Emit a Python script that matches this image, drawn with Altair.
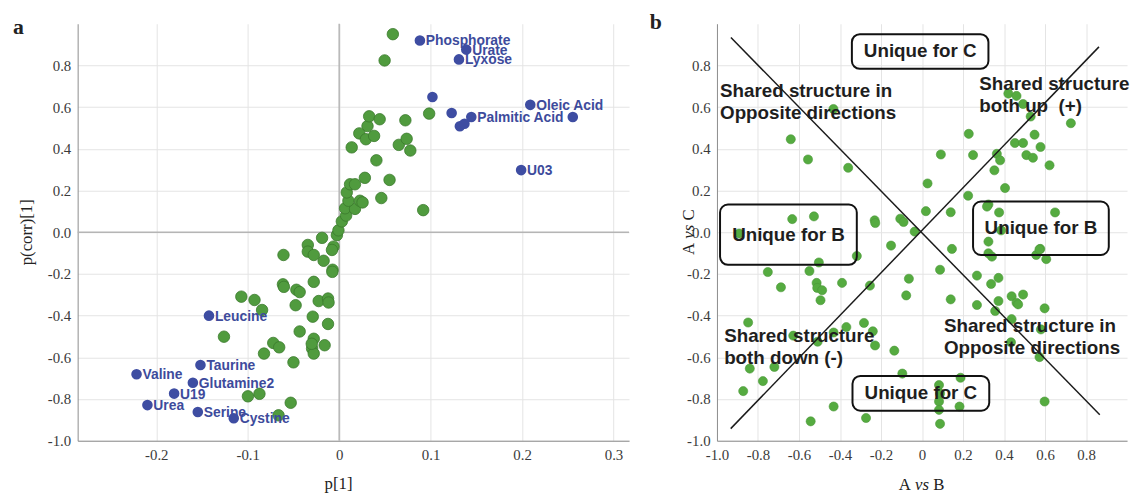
import altair as alt
import pandas as pd

# ---------------- Panel a: S-plot ----------------
green_p1 = [-0.107, -0.0926, -0.0843, -0.126, -0.0721, -0.0656, -0.0822, -0.050, -0.0998, -0.0872,
            -0.053, -0.0663, -0.0609, -0.0615, -0.0605, -0.0468, -0.0432, -0.0476, -0.0278, -0.0224,
            -0.0122, -0.0116, -0.0289, -0.0122, -0.0432, -0.0278, -0.0296, -0.0278, -0.0159, -0.030,
            -0.017, -0.0072, -0.0075, -0.0343, -0.0343, -0.0278, -0.0062, -0.0079, -0.0187, -0.0025,
            -0.0008, 0.0029, 0.0076, 0.0065, 0.0173, 0.0101, 0.0227, 0.0256, 0.0083, 0.0119,
            0.0173, 0.0281, 0.0551, 0.0461, 0.0919, 0.0407, 0.0137, 0.0652, 0.0738, 0.0778,
            0.031, 0.022, 0.0292, 0.0382, 0.0328, 0.0443, 0.0724, 0.0984, 0.0497, 0.0587]
green_pcorr = [-0.309, -0.325, -0.373, -0.501, -0.531, -0.552, -0.582, -0.624, -0.787, -0.775,
               -0.818, -0.878, -0.109, -0.250, -0.262, -0.276, -0.287, -0.350, -0.238, -0.330,
               -0.318, -0.337, -0.405, -0.440, -0.476, -0.511, -0.558, -0.582, -0.542, -0.535,
               -0.137, -0.180, -0.190, -0.061, -0.093, -0.109, -0.069, -0.085, -0.027, -0.014,
               0.009, 0.052, 0.080, 0.115, 0.112, 0.151, 0.151, 0.143, 0.191, 0.230,
               0.230, 0.261, 0.251, 0.164, 0.106, 0.345, 0.407, 0.419, 0.448, 0.392,
               0.509, 0.474, 0.446, 0.462, 0.556, 0.542, 0.537, 0.569, 0.824, 0.950]

blue_names = ["Phosphorate", "Urate", "Lyxose", "", "Oleic Acid", "", "Palmitic Acid", "", "", "",
              "U03", "Leucine", "Taurine", "Valine", "Glutamine2", "U19", "Urea", "Serine", "Cystine"]
blue_p1 = [0.0883, 0.139, 0.131, 0.102, 0.209, 0.123, 0.1445, 0.132, 0.137, 0.2555,
           0.199, -0.1424, -0.1517, -0.2216, -0.160, -0.1805, -0.2097, -0.1546, -0.1153]
blue_pcorr = [0.920, 0.876, 0.829, 0.649, 0.611, 0.572, 0.553, 0.508, 0.520, 0.553,
              0.298, -0.400, -0.637, -0.681, -0.722, -0.774, -0.829, -0.862, -0.892]

# ---------------- Panel b: shared-and-unique-structure plot ----------------
avsb = [-0.432, -0.640, -0.556, -0.360, -0.633, -0.527, -0.231, -0.228, -0.106, -0.090,
        -0.036, -0.892, -0.151, 0.019, 0.027, 0.092, 0.140, 0.228, 0.225, 0.249,
        0.324, 0.317, 0.376, 0.324, 0.386, 0.405, 0.353, 0.365, 0.381, 0.421,
        0.461, 0.493, 0.530, 0.453, 0.493, 0.509, 0.541, 0.549, 0.578, 0.622,
        0.726, 0.649, 0.146, 0.577,
        -0.318, -0.503, -0.752, -0.549, -0.514, -0.511, -0.487, -0.495, -0.688, -0.390,
        -0.254, -0.064, -0.077,
        0.088, 0.140, 0.268, 0.337, 0.373, 0.268, 0.373, 0.357, 0.437, 0.461,
        0.469, 0.493, 0.437, 0.598, 0.434, 0.580, 0.573, 0.598, 0.557, 0.573,
        0.606, 0.324, 0.341,
        -0.848, -0.628, -0.840, -0.720, -0.776, -0.872, -0.509, -0.431, -0.369, -0.283,
        -0.240, -0.229, -0.135, -0.096, -0.431, -0.273, -0.543,
        0.083, 0.088, 0.083, 0.083, 0.088, 0.188, 0.183]
avsc = [0.591, 0.446, 0.349, 0.309, 0.063, 0.076, 0.057, 0.044, 0.065, 0.049,
        0.003, -0.006, -0.064, 0.101, 0.234, 0.373, 0.096, 0.472, 0.175, 0.370,
        0.133, 0.123, 0.095, -0.045, 0.009, 0.212, 0.297, 0.376, 0.345, 0.665,
        0.654, 0.615, 0.555, 0.428, 0.428, 0.370, 0.357, 0.468, 0.409, 0.321,
        0.523, 0.095, -0.080, -0.080,
        -0.114, -0.145, -0.191, -0.186, -0.243, -0.267, -0.278, -0.326, -0.264, -0.243,
        -0.256, -0.223, -0.303,
        -0.180, -0.322, -0.208, -0.248, -0.219, -0.349, -0.330, -0.378, -0.307, -0.338,
        -0.346, -0.299, -0.417, -0.365, -0.528, -0.466, -0.599, -0.812, -0.109, -0.082,
        -0.129, -0.101, -0.117,
        -0.433, -0.496, -0.654, -0.646, -0.714, -0.762, -0.525, -0.481, -0.455, -0.435,
        -0.475, -0.543, -0.568, -0.678, -0.836, -0.891, -0.907,
        -0.733, -0.773, -0.812, -0.852, -0.919, -0.698, -0.836]

# diagonal guide lines (start x, start y, end x, end y)
line_x1 = [-0.932, -0.933]
line_y1 = [0.934, -0.942]
line_x2 = [0.867, 0.863]
line_y2 = [-0.875, 0.889]

# boxed region labels
box_text = ["Unique for C", "Unique for C", "Unique for B", "Unique for B"]
box_x1 = [-0.342, -0.339, -0.985, 0.249]
box_x2 = [0.324, 0.328, -0.318, 0.911]
box_y1 = [0.784, -0.856, -0.156, -0.109]
box_y2 = [0.950, -0.689, 0.133, 0.147]

# free region labels (one row per text line)
note_text = ["Shared structure in", "Opposite directions", "Shared structure", "both up\u00a0 (+)",
             "Shared structure", "both down (-)", "Shared structure in", "Opposite directions"]
note_x = [-0.985, -0.985, 0.2795, 0.2795, -0.965, -0.965, 0.107, 0.107]
note_y = [0.678, 0.573, 0.712, 0.605, -0.496, -0.603, -0.452, -0.556]

# ---------------- styling ----------------
W_A, W_B, H = 558, 415, 422
SERIF = "Liberation Serif"
SANS = "Liberation Sans"
GRID = "#e4e4e4"
LABEL_EXPR_X = "datum.value == 0 ? '0' : replace(format(datum.value, '.1f'), '\u2212', '-')"
LABEL_EXPR_Y = "replace(format(datum.value, '.1f'), '\u2212', '-')"

yvals = [-1.0, -0.8, -0.6, -0.4, -0.2, 0.0, 0.2, 0.4, 0.6, 0.8]

def yaxis():
    return alt.Axis(values=yvals, labelExpr=LABEL_EXPR_Y, title=None)

df_green = pd.DataFrame({"p1": green_p1, "pcorr": green_pcorr})
df_blue = pd.DataFrame({"name": blue_names, "p1": blue_p1, "pcorr": blue_pcorr})

xa = alt.X("p1:Q", scale=alt.Scale(domain=[-0.286, 0.317], nice=False, zero=False),
           axis=alt.Axis(values=[-0.2, -0.1, 0.0, 0.1, 0.2, 0.3], labelExpr=LABEL_EXPR_X, title=None))
ya = alt.Y("pcorr:Q", scale=alt.Scale(domain=[-1.0, 1.0], nice=False, zero=False), axis=yaxis())

zero_v = alt.Chart(pd.DataFrame({"p1": [0.0]})).mark_rule(color="#b5b5b5", strokeWidth=1.5).encode(x=xa)
zero_h = alt.Chart(pd.DataFrame({"pcorr": [0.0]})).mark_rule(color="#b5b5b5", strokeWidth=1.5).encode(y=ya)

greens = alt.Chart(df_green).mark_circle(size=135, color="#509b3e", stroke="#3a7a2c",
                                         strokeWidth=0.8, opacity=1).encode(x=xa, y=ya)
labels = alt.Chart(df_blue).mark_text(align="left", baseline="middle", dx=6, dy=1, font=SANS,
                                      fontWeight="bold", fontSize=14, color="#3d4b9c").encode(
    x=xa, y=ya, text="name:N")
blues = alt.Chart(df_blue).mark_circle(size=115, color="#3e4da2", opacity=1).encode(x=xa, y=ya)

def txt(t, x, y, size=17, weight="normal", style="normal", angle=0, font=SERIF, color="#222222",
        align="center", baseline="middle"):
    kw = dict(align=align, baseline=baseline, font=font, fontSize=size, fontWeight=weight,
              fontStyle=style, color=color)
    if angle:
        kw["angle"] = angle
    return alt.Chart(pd.DataFrame({"t": [t]})).mark_text(**kw).encode(
        text="t:N", x=alt.value(x), y=alt.value(y))

panel_a = alt.layer(
    zero_v, zero_h, greens, labels, blues,
    txt("a", -60, 3, size=22, weight="bold"),
    txt("p(corr)[1]", -51.5, 211, angle=270),
    txt("p[1]", 264, 465.5),
).properties(width=W_A, height=H)

# panel b
df_b = pd.DataFrame({"ab": avsb, "ac": avsc})
xb = alt.X("ab:Q", scale=alt.Scale(domain=[-1.0, 1.0], nice=False, zero=False),
           axis=alt.Axis(values=yvals, labelExpr=LABEL_EXPR_X, title=None))
yb = alt.Y("ac:Q", scale=alt.Scale(domain=[-1.0, 1.0], nice=False, zero=False), axis=yaxis())

pts_b = alt.Chart(df_b).mark_circle(size=85, color="#55ab40", stroke="#4a9838",
                                    strokeWidth=0.6, opacity=1).encode(x=xb, y=yb)
df_lines = pd.DataFrame({"ab": line_x1, "ac": line_y1, "ab2": line_x2, "ac2": line_y2})
lines_b = alt.Chart(df_lines).mark_rule(color="#1a1a1a", strokeWidth=1.5).encode(
    x=xb, y=yb, x2="ab2:Q", y2="ac2:Q")
df_box = pd.DataFrame({"t": box_text, "ab": box_x1, "ab2": box_x2, "ac": box_y1, "ac2": box_y2})
df_box["cx"] = (df_box["ab"] + df_box["ab2"]) / 2
df_box["cy"] = (df_box["ac"] + df_box["ac2"]) / 2
boxes = alt.Chart(df_box).mark_rect(fillOpacity=0, stroke="#111111", strokeWidth=2,
                                    cornerRadius=8).encode(x=xb, y=yb, x2="ab2:Q", y2="ac2:Q")
box_labels = alt.Chart(df_box).mark_text(align="center", baseline="middle", font=SANS,
                                         fontWeight="bold", fontSize=19, color="#1e1e1e").encode(
    x=alt.X("cx:Q", scale=alt.Scale(domain=[-1.0, 1.0], nice=False, zero=False)),
    y=alt.Y("cy:Q", scale=alt.Scale(domain=[-1.0, 1.0], nice=False, zero=False)),
    text="t:N")
df_note = pd.DataFrame({"t": note_text, "ab": note_x, "ac": note_y})
notes = alt.Chart(df_note).mark_text(align="left", baseline="middle", font=SANS,
                                     fontWeight="bold", fontSize=19, color="#1e1e1e").encode(
    x=xb, y=yb, text="t:N")

panel_b = alt.layer(
    pts_b, lines_b, boxes, box_labels, notes,
    txt("b", -62, -1.5, size=22, weight="bold"),
    txt("A", -28.5, 228.0, angle=270),
    txt("vs", -28.5, 210.5, angle=270, style="italic"),
    txt("C", -28.5, 193.5, angle=270),
    txt("A", 190.0, 466.5),
    txt("vs", 207.5, 466.5, style="italic"),
    txt("B", 224.5, 466.5),
).properties(width=W_B, height=H)

chart = alt.hconcat(panel_a, panel_b, spacing=89, bounds="flush").properties(
    padding={"left": 4.5, "top": 0, "right": 0, "bottom": 0}
).configure_view(stroke=None).configure_axis(
    grid=True, gridColor=GRID, gridWidth=1, domainColor="#8c8c8c", domainWidth=1,
    ticks=False, labelPadding=7, labelFont=SERIF, labelFontSize=15, labelColor="#3a3a3a",
    labelFlush=False, labelOverlap=False
)

chart.save("out.html", embed_options={"renderer": "svg", "actions": False})
